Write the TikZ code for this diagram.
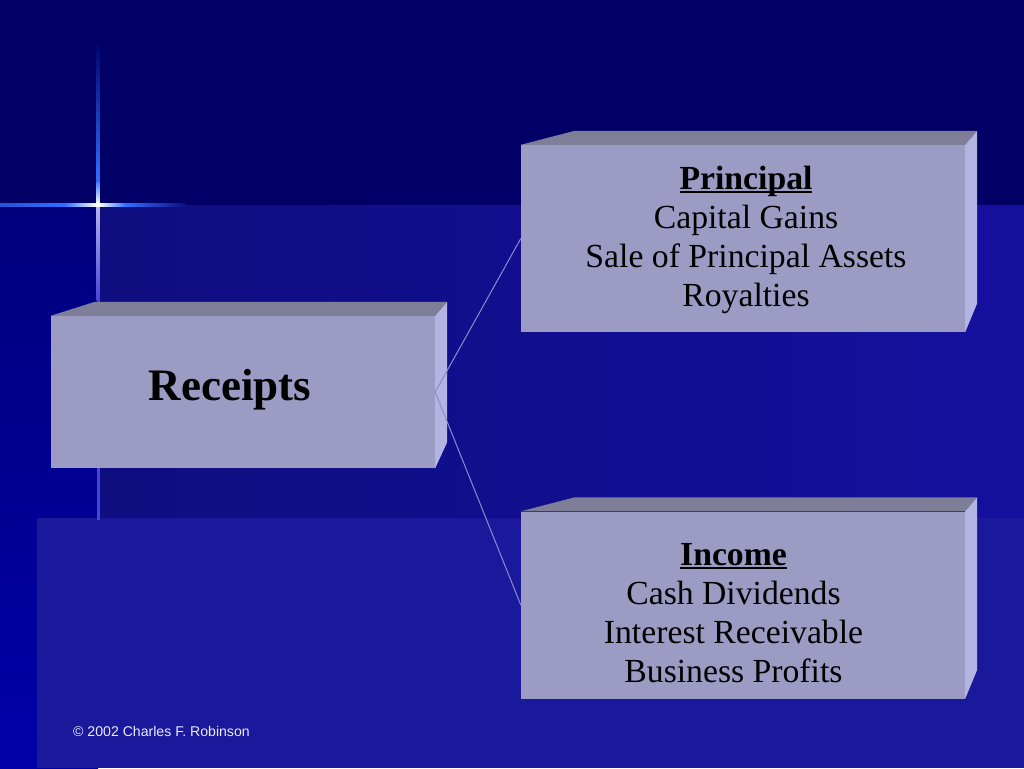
\documentclass[tikz,border=0pt]{standalone}
\usepackage{fontspec}
\setmainfont{Liberation Serif}
\newfontfamily\footfont{Liberation Sans}
\usetikzlibrary{positioning}

\definecolor{bgtop}{RGB}{0,0,102}
\definecolor{stripA}{RGB}{0,0,125}
\definecolor{stripB}{RGB}{0,0,168}
\definecolor{bandAl}{RGB}{14,14,128}
\definecolor{bandAr}{RGB}{20,16,158}
\definecolor{bandB}{RGB}{27,25,155}
\definecolor{rayblue}{RGB}{50,110,255}
\definecolor{rayline}{RGB}{70,70,215}
\definecolor{boxfront}{RGB}{155,155,196}
\definecolor{boxtop}{RGB}{126,126,152}
\definecolor{boxside}{RGB}{180,180,226}
\definecolor{linkcol}{RGB}{140,140,205}

\tikzset{
  facebox/.style={fill=boxfront, inner sep=0pt, minimum width=444pt,
    minimum height=187pt},
  facetext/.style={align=center, inner sep=0pt, font=\fontsize{33.7}{39}\selectfont},
  toplid/.style={fill=boxtop},
  sidewall/.style={fill=boxside},
  branch/.style={draw=linkcol, line width=1pt},
}

% bold heading with the rule running through the descenders
\newcommand{\boxhead}[1]{\setbox0\hbox{\bfseries #1}\rlap{\rule[-4pt]{\wd0}{2pt}}\box0}

% lid and side wall of a box: node name, lid back offset, wall drop
\newcommand{\boxfaces}[3]{%
  \fill[toplid] (#1.north west) -- ++(#2,-14) -- ([shift={(12,-14)}]#1.north east) -- (#1.north east) -- cycle;
  \fill[sidewall] (#1.north east) -- ++(12,-14) -- ([shift={(12,-#3)}]#1.south east) -- (#1.south east) -- cycle;}

\begin{document}
\begin{tikzpicture}[x=1pt,y=-1pt]

    \useasboundingbox (0,0) rectangle (1024,768);

    %%%%%%%%%%%%%%%%%%
    %%%%% Slide  %%%%%
    %%%%%%%%%%%%%%%%%%
    \fill[bgtop] (0,0) rectangle (1024,768);
    \shade[top color=stripA, bottom color=stripB] (0,205) rectangle (98,768);
    \shade[left color=bandAl, right color=bandAr] (98,205) rectangle (1024,518);
    \fill[bandB] (37,518) rectangle (1024,768);

    % Sparkle
    \shade[top color=bgtop, bottom color=rayblue] (96.5,40) rectangle (99.5,180);
    \shade[top color=rayblue, bottom color=white] (96.5,180) rectangle (99.5,204);
    \shade[top color=white!60!rayline, bottom color=rayline] (96.5,206) rectangle (99.5,300);
    \fill[rayline] (96.5,300) rectangle (99.5,520);
    \shade[left color=rayblue!75!bgtop, right color=rayblue] (0,203.5) rectangle (65,206.5);
    \shade[left color=rayblue, right color=white] (65,203.5) rectangle (97,206.5);
    \shade[left color=white, right color=rayblue] (99,203.5) rectangle (125,206.5);
    \shade[left color=rayblue, right color=bandAl] (125,203.5) rectangle (185,206.5);
    \fill[white] (98,205) circle (2.2);

    %%%%%%%%%%%%%%%%%%
    %%%%% Boxes  %%%%%
    %%%%%%%%%%%%%%%%%%
    \node[facebox, minimum width=384pt, minimum height=152pt] (rcpt) at (243,392) {};
    \node[font=\fontsize{45}{50}\selectfont\bfseries] (rcpttxt) at (230,390) {Receipts};
    \boxfaces{rcpt}{44}{26}

    \node[facebox] (prin) at (743,238.5) {};
    \node[facetext] (printxt) at (746,239.5)
      {\boxhead{Principal}\\Capital Gains\\Sale of Principal Assets\\Royalties};
    \boxfaces{prin}{54}{29}

    \node[facebox] (inc) at (743,605) {};
    \node[facetext] (inctxt) at (733.5,613)
      {\boxhead{Income}\\Cash Dividends\\Interest Receivable\\Business Profits};
    \boxfaces{inc}{54}{29}

    % Branches
    \draw[branch] (prin.west) -- (rcpt.east) -- (inc.west);

    % Footer
    \node[font=\footfont\fontsize{14.1}{16}\selectfont, text=white!92!blue,
      anchor=west, inner sep=0pt] (copy) at (73,731) {© 2002 Charles F. Robinson};

\end{tikzpicture}
\end{document}
